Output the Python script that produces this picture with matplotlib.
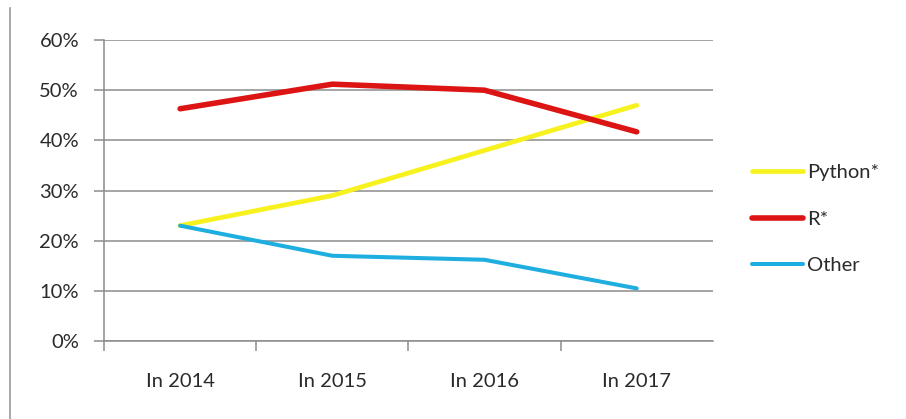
import matplotlib
matplotlib.use("Agg")
import matplotlib.pyplot as plt
from matplotlib.ticker import PercentFormatter
from matplotlib.lines import Line2D

# data
years = ["In 2014", "In 2015", "In 2016", "In 2017"]
python_share = [23, 29, 38, 47]
r_share = [46.3, 51.2, 50.0, 41.7]
other_share = [23, 17, 16.2, 10.5]

plt.rcParams['font.family'] = ['Lato', 'DejaVu Sans']
fs = 14.5

fig = plt.figure(figsize=(9.06, 4.19), dpi=100)
ax = fig.add_axes([0.1148, 0.186, 0.672, 0.7185])

x = list(range(len(years)))
ax.plot(x, python_share, color="#f7f21e", linewidth=3.4, solid_capstyle="round", label="Python*")
ax.plot(x, r_share, color="#dc1414", linewidth=4.0, solid_capstyle="round", label="R*")
ax.plot(x, other_share, color="#1eaee0", linewidth=2.9, solid_capstyle="round", label="Other")

ax.set_xlim(-0.5, len(years) - 0.5)
ax.set_ylim(0, 60)
ax.set_yticks(range(0, 61, 10))
ax.yaxis.set_major_formatter(PercentFormatter(decimals=0))
ax.grid(axis="y", color="#8c8c8c", linewidth=1.1)
ax.set_axisbelow(True)

# ticks on category boundaries, labels in the middle
ax.set_xticks([i - 0.5 for i in range(len(years))])
ax.set_xticklabels([])
ax.set_xticks(x, minor=True)
ax.set_xticklabels(years, minor=True)
ax.tick_params(axis="x", which="major", length=7, color="#8c8c8c", width=1.1)
ax.tick_params(axis="x", which="minor", length=0, pad=23, labelsize=fs, labelcolor="#2a2a2a")
ax.tick_params(axis="y", length=7, color="#8c8c8c", width=1.1, pad=11, labelsize=fs, labelcolor="#2a2a2a")

for side in ["top", "right"]:
    ax.spines[side].set_visible(False)
for side in ["left", "bottom"]:
    ax.spines[side].set_color("#8c8c8c")
    ax.spines[side].set_linewidth(1.1)

leg = ax.legend(loc="center left", bbox_to_anchor=(0.821, 0.477), bbox_transform=fig.transFigure,
                frameon=False, handlelength=2.55, handletextpad=0.2, labelspacing=1.45,
                fontsize=fs, borderaxespad=0)
for t in leg.get_texts():
    t.set_color("#2a2a2a")

# left border line of the image
fig.add_artist(Line2D([0.011, 0.011], [0.0, 0.98], transform=fig.transFigure,
                      color="#9a9a9a", linewidth=1.2))

fig.savefig("out.png", dpi=100)
